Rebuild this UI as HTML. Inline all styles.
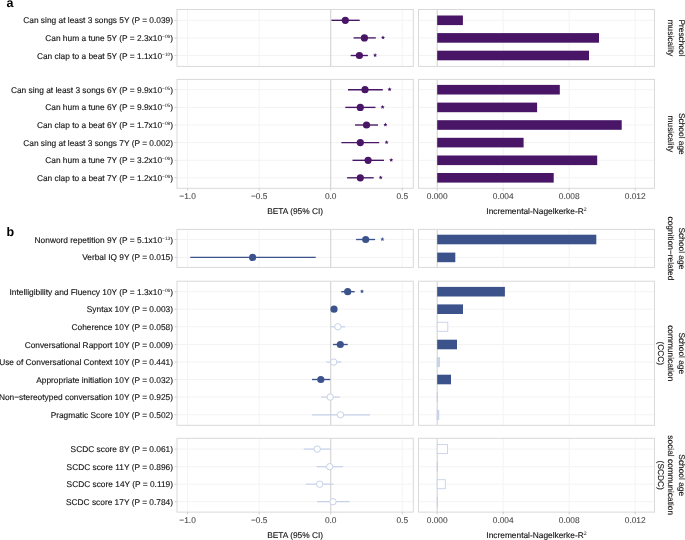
<!DOCTYPE html>
<html><head><meta charset="utf-8"><style>
html,body{margin:0;padding:0;background:#fff;}
body{width:685px;height:540px;overflow:hidden;}
svg{display:block;will-change:transform;font-family:"Liberation Sans",sans-serif;text-rendering:geometricPrecision;}
text{stroke-width:0.12px;}
tspan.s{stroke:none;}
</style></head><body>
<svg width="685" height="540" viewBox="0 0 685 540">
<rect width="685" height="540" fill="#fff"/>
<rect x="177.0" y="9.5" width="236.3" height="56.900000000000006" fill="#fff"/>
<rect x="418.5" y="9.5" width="236.0" height="56.900000000000006" fill="#fff"/>
<line x1="187.60" y1="9.5" x2="187.60" y2="66.4" stroke="#f3f3f3" stroke-width="1"/>
<line x1="259.15" y1="9.5" x2="259.15" y2="66.4" stroke="#f3f3f3" stroke-width="1"/>
<line x1="402.25" y1="9.5" x2="402.25" y2="66.4" stroke="#f3f3f3" stroke-width="1"/>
<line x1="503.20" y1="9.5" x2="503.20" y2="66.4" stroke="#f3f3f3" stroke-width="1"/>
<line x1="569.20" y1="9.5" x2="569.20" y2="66.4" stroke="#f3f3f3" stroke-width="1"/>
<line x1="635.20" y1="9.5" x2="635.20" y2="66.4" stroke="#f3f3f3" stroke-width="1"/>
<line x1="177.0" y1="20.3" x2="413.3" y2="20.3" stroke="#f3f3f3" stroke-width="1"/>
<line x1="418.5" y1="20.3" x2="654.5" y2="20.3" stroke="#f3f3f3" stroke-width="1"/>
<line x1="177.0" y1="37.9" x2="413.3" y2="37.9" stroke="#f3f3f3" stroke-width="1"/>
<line x1="418.5" y1="37.9" x2="654.5" y2="37.9" stroke="#f3f3f3" stroke-width="1"/>
<line x1="177.0" y1="55.5" x2="413.3" y2="55.5" stroke="#f3f3f3" stroke-width="1"/>
<line x1="418.5" y1="55.5" x2="654.5" y2="55.5" stroke="#f3f3f3" stroke-width="1"/>
<line x1="330.70" y1="9.5" x2="330.70" y2="66.4" stroke="#d3d3d3" stroke-width="1.1"/>
<line x1="437.20" y1="9.5" x2="437.20" y2="66.4" stroke="#d3d3d3" stroke-width="1.1"/>
<line x1="331.4" y1="20.3" x2="359.7" y2="20.3" stroke="#481567" stroke-width="1.35"/>
<circle cx="345.3" cy="20.3" r="3.6" fill="#481567"/>
<rect x="437.20" y="15.50" width="25.70" height="9.6" fill="#481567"/>
<line x1="174.6" y1="20.3" x2="177.0" y2="20.3" stroke="#c4c4c4" stroke-width="0.8"/>
<text x="173.0" y="23.30" class="l" text-anchor="end" fill="#111111" stroke="#111111" font-size="8.35">Can sing at least 3 songs 5Y (P = 0.039)</text>
<line x1="353.6" y1="37.9" x2="375.8" y2="37.9" stroke="#481567" stroke-width="1.35"/>
<circle cx="364.4" cy="37.9" r="3.6" fill="#481567"/>
<polygon points="383.00,35.50 383.59,36.79 385.00,36.95 383.95,37.91 384.23,39.30 383.00,38.60 381.77,39.30 382.05,37.91 381.00,36.95 382.41,36.79" fill="#481567"/>
<rect x="437.20" y="33.10" width="161.80" height="9.6" fill="#481567"/>
<line x1="174.6" y1="37.9" x2="177.0" y2="37.9" stroke="#c4c4c4" stroke-width="0.8"/>
<text x="173.0" y="40.90" class="l" text-anchor="end" fill="#111111" stroke="#111111" font-size="8.35">Can hum a tune 5Y (P = 2.3x10<tspan class="s" font-size="4.8" dy="-3.0">−06</tspan><tspan dy="3.0">)</tspan></text>
<line x1="350.7" y1="55.5" x2="367.9" y2="55.5" stroke="#481567" stroke-width="1.35"/>
<circle cx="359.4" cy="55.5" r="3.6" fill="#481567"/>
<polygon points="375.10,53.10 375.69,54.39 377.10,54.55 376.05,55.51 376.33,56.90 375.10,56.20 373.87,56.90 374.15,55.51 373.10,54.55 374.51,54.39" fill="#481567"/>
<rect x="437.20" y="50.70" width="151.80" height="9.6" fill="#481567"/>
<line x1="174.6" y1="55.5" x2="177.0" y2="55.5" stroke="#c4c4c4" stroke-width="0.8"/>
<text x="173.0" y="58.50" class="l" text-anchor="end" fill="#111111" stroke="#111111" font-size="8.35">Can clap to a beat 5Y (P = 1.1x10<tspan class="s" font-size="4.8" dy="-3.0">−10</tspan><tspan dy="3.0">)</tspan></text>
<rect x="177.0" y="9.5" width="236.30" height="56.90" fill="none" stroke="#d9d9d9" stroke-width="1"/>
<rect x="418.5" y="9.5" width="236.00" height="56.90" fill="none" stroke="#d9d9d9" stroke-width="1"/>
<text transform="translate(678.50,37.95) rotate(90)" text-anchor="middle" fill="#111111" stroke="#111111" font-size="8.35">Preschool</text>
<text transform="translate(668.40,37.95) rotate(90)" text-anchor="middle" fill="#111111" stroke="#111111" font-size="8.35">musicality</text>
<rect x="177.0" y="79.4" width="236.3" height="108.9" fill="#fff"/>
<rect x="418.5" y="79.4" width="236.0" height="108.9" fill="#fff"/>
<line x1="187.60" y1="79.4" x2="187.60" y2="188.3" stroke="#f3f3f3" stroke-width="1"/>
<line x1="259.15" y1="79.4" x2="259.15" y2="188.3" stroke="#f3f3f3" stroke-width="1"/>
<line x1="402.25" y1="79.4" x2="402.25" y2="188.3" stroke="#f3f3f3" stroke-width="1"/>
<line x1="503.20" y1="79.4" x2="503.20" y2="188.3" stroke="#f3f3f3" stroke-width="1"/>
<line x1="569.20" y1="79.4" x2="569.20" y2="188.3" stroke="#f3f3f3" stroke-width="1"/>
<line x1="635.20" y1="79.4" x2="635.20" y2="188.3" stroke="#f3f3f3" stroke-width="1"/>
<line x1="177.0" y1="89.7" x2="413.3" y2="89.7" stroke="#f3f3f3" stroke-width="1"/>
<line x1="418.5" y1="89.7" x2="654.5" y2="89.7" stroke="#f3f3f3" stroke-width="1"/>
<line x1="177.0" y1="107.4" x2="413.3" y2="107.4" stroke="#f3f3f3" stroke-width="1"/>
<line x1="418.5" y1="107.4" x2="654.5" y2="107.4" stroke="#f3f3f3" stroke-width="1"/>
<line x1="177.0" y1="125.0" x2="413.3" y2="125.0" stroke="#f3f3f3" stroke-width="1"/>
<line x1="418.5" y1="125.0" x2="654.5" y2="125.0" stroke="#f3f3f3" stroke-width="1"/>
<line x1="177.0" y1="142.6" x2="413.3" y2="142.6" stroke="#f3f3f3" stroke-width="1"/>
<line x1="418.5" y1="142.6" x2="654.5" y2="142.6" stroke="#f3f3f3" stroke-width="1"/>
<line x1="177.0" y1="160.3" x2="413.3" y2="160.3" stroke="#f3f3f3" stroke-width="1"/>
<line x1="418.5" y1="160.3" x2="654.5" y2="160.3" stroke="#f3f3f3" stroke-width="1"/>
<line x1="177.0" y1="177.8" x2="413.3" y2="177.8" stroke="#f3f3f3" stroke-width="1"/>
<line x1="418.5" y1="177.8" x2="654.5" y2="177.8" stroke="#f3f3f3" stroke-width="1"/>
<line x1="330.70" y1="79.4" x2="330.70" y2="188.3" stroke="#d3d3d3" stroke-width="1.1"/>
<line x1="437.20" y1="79.4" x2="437.20" y2="188.3" stroke="#d3d3d3" stroke-width="1.1"/>
<line x1="348.0" y1="89.7" x2="382.8" y2="89.7" stroke="#481567" stroke-width="1.35"/>
<circle cx="365.0" cy="89.7" r="3.6" fill="#481567"/>
<polygon points="389.60,87.30 390.19,88.59 391.60,88.75 390.55,89.71 390.83,91.10 389.60,90.40 388.37,91.10 388.65,89.71 387.60,88.75 389.01,88.59" fill="#481567"/>
<rect x="437.20" y="84.90" width="122.60" height="9.6" fill="#481567"/>
<line x1="174.6" y1="89.7" x2="177.0" y2="89.7" stroke="#c4c4c4" stroke-width="0.8"/>
<text x="173.0" y="92.70" class="l" text-anchor="end" fill="#111111" stroke="#111111" font-size="8.35">Can sing at least 3 songs 6Y (P = 9.9x10<tspan class="s" font-size="4.8" dy="-3.0">−05</tspan><tspan dy="3.0">)</tspan></text>
<line x1="345.3" y1="107.4" x2="375.5" y2="107.4" stroke="#481567" stroke-width="1.35"/>
<circle cx="360.3" cy="107.4" r="3.6" fill="#481567"/>
<polygon points="382.60,105.00 383.19,106.29 384.60,106.45 383.55,107.41 383.83,108.80 382.60,108.10 381.37,108.80 381.65,107.41 380.60,106.45 382.01,106.29" fill="#481567"/>
<rect x="437.20" y="102.60" width="99.90" height="9.6" fill="#481567"/>
<line x1="174.6" y1="107.4" x2="177.0" y2="107.4" stroke="#c4c4c4" stroke-width="0.8"/>
<text x="173.0" y="110.40" class="l" text-anchor="end" fill="#111111" stroke="#111111" font-size="8.35">Can hum a tune 6Y (P = 9.9x10<tspan class="s" font-size="4.8" dy="-3.0">−05</tspan><tspan dy="3.0">)</tspan></text>
<line x1="355.0" y1="125.0" x2="378.0" y2="125.0" stroke="#481567" stroke-width="1.35"/>
<circle cx="366.5" cy="125.0" r="3.6" fill="#481567"/>
<polygon points="385.40,122.60 385.99,123.89 387.40,124.05 386.35,125.01 386.63,126.40 385.40,125.70 384.17,126.40 384.45,125.01 383.40,124.05 384.81,123.89" fill="#481567"/>
<rect x="437.20" y="120.20" width="184.50" height="9.6" fill="#481567"/>
<line x1="174.6" y1="125.0" x2="177.0" y2="125.0" stroke="#c4c4c4" stroke-width="0.8"/>
<text x="173.0" y="128.00" class="l" text-anchor="end" fill="#111111" stroke="#111111" font-size="8.35">Can clap to a beat 6Y (P = 1.7x10<tspan class="s" font-size="4.8" dy="-3.0">−08</tspan><tspan dy="3.0">)</tspan></text>
<line x1="341.4" y1="142.6" x2="379.2" y2="142.6" stroke="#481567" stroke-width="1.35"/>
<circle cx="360.3" cy="142.6" r="3.6" fill="#481567"/>
<polygon points="386.60,140.20 387.19,141.49 388.60,141.65 387.55,142.61 387.83,144.00 386.60,143.30 385.37,144.00 385.65,142.61 384.60,141.65 386.01,141.49" fill="#481567"/>
<rect x="437.20" y="137.80" width="86.40" height="9.6" fill="#481567"/>
<line x1="174.6" y1="142.6" x2="177.0" y2="142.6" stroke="#c4c4c4" stroke-width="0.8"/>
<text x="173.0" y="145.60" class="l" text-anchor="end" fill="#111111" stroke="#111111" font-size="8.35">Can sing at least 3 songs 7Y (P = 0.002)</text>
<line x1="352.5" y1="160.3" x2="384.0" y2="160.3" stroke="#481567" stroke-width="1.35"/>
<circle cx="368.1" cy="160.3" r="3.6" fill="#481567"/>
<polygon points="391.20,157.90 391.79,159.19 393.20,159.35 392.15,160.31 392.43,161.70 391.20,161.00 389.97,161.70 390.25,160.31 389.20,159.35 390.61,159.19" fill="#481567"/>
<rect x="437.20" y="155.50" width="160.00" height="9.6" fill="#481567"/>
<line x1="174.6" y1="160.3" x2="177.0" y2="160.3" stroke="#c4c4c4" stroke-width="0.8"/>
<text x="173.0" y="163.30" class="l" text-anchor="end" fill="#111111" stroke="#111111" font-size="8.35">Can hum a tune 7Y (P = 3.2x10<tspan class="s" font-size="4.8" dy="-3.0">−06</tspan><tspan dy="3.0">)</tspan></text>
<line x1="347.1" y1="177.8" x2="373.7" y2="177.8" stroke="#481567" stroke-width="1.35"/>
<circle cx="360.3" cy="177.8" r="3.6" fill="#481567"/>
<polygon points="380.70,175.40 381.29,176.69 382.70,176.85 381.65,177.81 381.93,179.20 380.70,178.50 379.47,179.20 379.75,177.81 378.70,176.85 380.11,176.69" fill="#481567"/>
<rect x="437.20" y="173.00" width="116.50" height="9.6" fill="#481567"/>
<line x1="174.6" y1="177.8" x2="177.0" y2="177.8" stroke="#c4c4c4" stroke-width="0.8"/>
<text x="173.0" y="180.80" class="l" text-anchor="end" fill="#111111" stroke="#111111" font-size="8.35">Can clap to a beat 7Y (P = 1.2x10<tspan class="s" font-size="4.8" dy="-3.0">−06</tspan><tspan dy="3.0">)</tspan></text>
<rect x="177.0" y="79.4" width="236.30" height="108.90" fill="none" stroke="#d9d9d9" stroke-width="1"/>
<rect x="418.5" y="79.4" width="236.00" height="108.90" fill="none" stroke="#d9d9d9" stroke-width="1"/>
<text transform="translate(678.50,133.85) rotate(90)" text-anchor="middle" fill="#111111" stroke="#111111" font-size="8.35">School age</text>
<text transform="translate(668.40,133.85) rotate(90)" text-anchor="middle" fill="#111111" stroke="#111111" font-size="8.35">musicality</text>
<rect x="177.0" y="229.4" width="236.3" height="37.99999999999997" fill="#fff"/>
<rect x="418.5" y="229.4" width="236.0" height="37.99999999999997" fill="#fff"/>
<line x1="187.60" y1="229.4" x2="187.60" y2="267.4" stroke="#f3f3f3" stroke-width="1"/>
<line x1="259.15" y1="229.4" x2="259.15" y2="267.4" stroke="#f3f3f3" stroke-width="1"/>
<line x1="402.25" y1="229.4" x2="402.25" y2="267.4" stroke="#f3f3f3" stroke-width="1"/>
<line x1="503.20" y1="229.4" x2="503.20" y2="267.4" stroke="#f3f3f3" stroke-width="1"/>
<line x1="569.20" y1="229.4" x2="569.20" y2="267.4" stroke="#f3f3f3" stroke-width="1"/>
<line x1="635.20" y1="229.4" x2="635.20" y2="267.4" stroke="#f3f3f3" stroke-width="1"/>
<line x1="177.0" y1="239.5" x2="413.3" y2="239.5" stroke="#f3f3f3" stroke-width="1"/>
<line x1="418.5" y1="239.5" x2="654.5" y2="239.5" stroke="#f3f3f3" stroke-width="1"/>
<line x1="177.0" y1="257.4" x2="413.3" y2="257.4" stroke="#f3f3f3" stroke-width="1"/>
<line x1="418.5" y1="257.4" x2="654.5" y2="257.4" stroke="#f3f3f3" stroke-width="1"/>
<line x1="330.70" y1="229.4" x2="330.70" y2="267.4" stroke="#d3d3d3" stroke-width="1.1"/>
<line x1="437.20" y1="229.4" x2="437.20" y2="267.4" stroke="#d3d3d3" stroke-width="1.1"/>
<line x1="356.1" y1="239.5" x2="375.1" y2="239.5" stroke="#3B528B" stroke-width="1.35"/>
<circle cx="365.7" cy="239.5" r="3.6" fill="#3B528B"/>
<polygon points="382.40,237.10 382.99,238.39 384.40,238.55 383.35,239.51 383.63,240.90 382.40,240.20 381.17,240.90 381.45,239.51 380.40,238.55 381.81,238.39" fill="#3B528B"/>
<rect x="437.20" y="234.70" width="159.10" height="9.6" fill="#3B528B"/>
<line x1="174.6" y1="239.5" x2="177.0" y2="239.5" stroke="#c4c4c4" stroke-width="0.8"/>
<text x="173.0" y="242.50" class="l" text-anchor="end" fill="#111111" stroke="#111111" font-size="8.35">Nonword repetition 9Y (P = 5.1x10<tspan class="s" font-size="4.8" dy="-3.0">−13</tspan><tspan dy="3.0">)</tspan></text>
<line x1="190.3" y1="257.4" x2="315.7" y2="257.4" stroke="#3B528B" stroke-width="1.35"/>
<circle cx="252.6" cy="257.4" r="3.6" fill="#3B528B"/>
<rect x="437.20" y="252.60" width="18.10" height="9.6" fill="#3B528B"/>
<line x1="174.6" y1="257.4" x2="177.0" y2="257.4" stroke="#c4c4c4" stroke-width="0.8"/>
<text x="173.0" y="260.40" class="l" text-anchor="end" fill="#111111" stroke="#111111" font-size="8.35">Verbal IQ 9Y (P = 0.015)</text>
<rect x="177.0" y="229.4" width="236.30" height="38.00" fill="none" stroke="#d9d9d9" stroke-width="1"/>
<rect x="418.5" y="229.4" width="236.00" height="38.00" fill="none" stroke="#d9d9d9" stroke-width="1"/>
<text transform="translate(678.50,248.40) rotate(90)" text-anchor="middle" fill="#111111" stroke="#111111" font-size="8.35">School age</text>
<text transform="translate(668.40,248.40) rotate(90)" text-anchor="middle" fill="#111111" stroke="#111111" font-size="8.35">cognition−related</text>
<rect x="177.0" y="281.2" width="236.3" height="144.10000000000002" fill="#fff"/>
<rect x="418.5" y="281.2" width="236.0" height="144.10000000000002" fill="#fff"/>
<line x1="187.60" y1="281.2" x2="187.60" y2="425.3" stroke="#f3f3f3" stroke-width="1"/>
<line x1="259.15" y1="281.2" x2="259.15" y2="425.3" stroke="#f3f3f3" stroke-width="1"/>
<line x1="402.25" y1="281.2" x2="402.25" y2="425.3" stroke="#f3f3f3" stroke-width="1"/>
<line x1="503.20" y1="281.2" x2="503.20" y2="425.3" stroke="#f3f3f3" stroke-width="1"/>
<line x1="569.20" y1="281.2" x2="569.20" y2="425.3" stroke="#f3f3f3" stroke-width="1"/>
<line x1="635.20" y1="281.2" x2="635.20" y2="425.3" stroke="#f3f3f3" stroke-width="1"/>
<line x1="177.0" y1="291.7" x2="413.3" y2="291.7" stroke="#f3f3f3" stroke-width="1"/>
<line x1="418.5" y1="291.7" x2="654.5" y2="291.7" stroke="#f3f3f3" stroke-width="1"/>
<line x1="177.0" y1="309.2" x2="413.3" y2="309.2" stroke="#f3f3f3" stroke-width="1"/>
<line x1="418.5" y1="309.2" x2="654.5" y2="309.2" stroke="#f3f3f3" stroke-width="1"/>
<line x1="177.0" y1="326.8" x2="413.3" y2="326.8" stroke="#f3f3f3" stroke-width="1"/>
<line x1="418.5" y1="326.8" x2="654.5" y2="326.8" stroke="#f3f3f3" stroke-width="1"/>
<line x1="177.0" y1="344.5" x2="413.3" y2="344.5" stroke="#f3f3f3" stroke-width="1"/>
<line x1="418.5" y1="344.5" x2="654.5" y2="344.5" stroke="#f3f3f3" stroke-width="1"/>
<line x1="177.0" y1="362.1" x2="413.3" y2="362.1" stroke="#f3f3f3" stroke-width="1"/>
<line x1="418.5" y1="362.1" x2="654.5" y2="362.1" stroke="#f3f3f3" stroke-width="1"/>
<line x1="177.0" y1="379.5" x2="413.3" y2="379.5" stroke="#f3f3f3" stroke-width="1"/>
<line x1="418.5" y1="379.5" x2="654.5" y2="379.5" stroke="#f3f3f3" stroke-width="1"/>
<line x1="177.0" y1="397.1" x2="413.3" y2="397.1" stroke="#f3f3f3" stroke-width="1"/>
<line x1="418.5" y1="397.1" x2="654.5" y2="397.1" stroke="#f3f3f3" stroke-width="1"/>
<line x1="177.0" y1="414.8" x2="413.3" y2="414.8" stroke="#f3f3f3" stroke-width="1"/>
<line x1="418.5" y1="414.8" x2="654.5" y2="414.8" stroke="#f3f3f3" stroke-width="1"/>
<line x1="330.70" y1="281.2" x2="330.70" y2="425.3" stroke="#d3d3d3" stroke-width="1.1"/>
<line x1="437.20" y1="281.2" x2="437.20" y2="425.3" stroke="#d3d3d3" stroke-width="1.1"/>
<line x1="341.2" y1="291.7" x2="354.7" y2="291.7" stroke="#3B528B" stroke-width="1.35"/>
<circle cx="347.7" cy="291.7" r="3.6" fill="#3B528B"/>
<polygon points="362.00,289.30 362.59,290.59 364.00,290.75 362.95,291.71 363.23,293.10 362.00,292.40 360.77,293.10 361.05,291.71 360.00,290.75 361.41,290.59" fill="#3B528B"/>
<rect x="437.20" y="286.90" width="67.70" height="9.6" fill="#3B528B"/>
<line x1="174.6" y1="291.7" x2="177.0" y2="291.7" stroke="#c4c4c4" stroke-width="0.8"/>
<text x="173.0" y="294.70" class="l" text-anchor="end" fill="#111111" stroke="#111111" font-size="8.35">Intelligibility and Fluency 10Y (P = 1.3x10<tspan class="s" font-size="4.8" dy="-3.0">−06</tspan><tspan dy="3.0">)</tspan></text>
<line x1="332.5" y1="309.2" x2="335.5" y2="309.2" stroke="#3B528B" stroke-width="1.35"/>
<circle cx="334.0" cy="309.2" r="3.6" fill="#3B528B"/>
<rect x="437.20" y="304.40" width="25.80" height="9.6" fill="#3B528B"/>
<line x1="174.6" y1="309.2" x2="177.0" y2="309.2" stroke="#c4c4c4" stroke-width="0.8"/>
<text x="173.0" y="312.20" class="l" text-anchor="end" fill="#111111" stroke="#111111" font-size="8.35">Syntax 10Y (P = 0.003)</text>
<line x1="330.7" y1="326.8" x2="345.1" y2="326.8" stroke="#c6d1ea" stroke-width="1.2"/>
<circle cx="337.9" cy="326.8" r="3.2" fill="#fff" stroke="#c6d1ea" stroke-width="1"/>
<rect x="437.20" y="322.30" width="10.60" height="9.0" fill="#fff" stroke="#c6d1ea" stroke-width="0.9"/>
<line x1="174.6" y1="326.8" x2="177.0" y2="326.8" stroke="#c4c4c4" stroke-width="0.8"/>
<text x="173.0" y="329.80" class="l" text-anchor="end" fill="#111111" stroke="#111111" font-size="8.35">Coherence 10Y (P = 0.058)</text>
<line x1="333.0" y1="344.5" x2="347.7" y2="344.5" stroke="#3B528B" stroke-width="1.35"/>
<circle cx="340.3" cy="344.5" r="3.6" fill="#3B528B"/>
<rect x="437.20" y="339.70" width="19.80" height="9.6" fill="#3B528B"/>
<line x1="174.6" y1="344.5" x2="177.0" y2="344.5" stroke="#c4c4c4" stroke-width="0.8"/>
<text x="173.0" y="347.50" class="l" text-anchor="end" fill="#111111" stroke="#111111" font-size="8.35">Conversational Rapport 10Y (P = 0.009)</text>
<line x1="326.3" y1="362.1" x2="341.4" y2="362.1" stroke="#c6d1ea" stroke-width="1.2"/>
<circle cx="333.7" cy="362.1" r="3.2" fill="#fff" stroke="#c6d1ea" stroke-width="1"/>
<rect x="437.20" y="357.60" width="2.30" height="9.0" fill="#c6d1ea" stroke="#c6d1ea" stroke-width="0.9"/>
<line x1="174.6" y1="362.1" x2="177.0" y2="362.1" stroke="#c4c4c4" stroke-width="0.8"/>
<text x="173.0" y="365.10" class="l" text-anchor="end" fill="#111111" stroke="#111111" font-size="8.35">Use of Conversational Context 10Y (P = 0.441)</text>
<line x1="312.0" y1="379.5" x2="330.2" y2="379.5" stroke="#3B528B" stroke-width="1.35"/>
<circle cx="320.8" cy="379.5" r="3.6" fill="#3B528B"/>
<rect x="437.20" y="374.70" width="13.80" height="9.6" fill="#3B528B"/>
<line x1="174.6" y1="379.5" x2="177.0" y2="379.5" stroke="#c4c4c4" stroke-width="0.8"/>
<text x="173.0" y="382.50" class="l" text-anchor="end" fill="#111111" stroke="#111111" font-size="8.35">Appropriate initiation 10Y (P = 0.032)</text>
<line x1="321.0" y1="397.1" x2="339.9" y2="397.1" stroke="#c6d1ea" stroke-width="1.2"/>
<circle cx="330.2" cy="397.1" r="3.2" fill="#fff" stroke="#c6d1ea" stroke-width="1"/>
<rect x="437.20" y="392.60" width="0.40" height="9.0" fill="#c6d1ea" stroke="#c6d1ea" stroke-width="0.9"/>
<line x1="174.6" y1="397.1" x2="177.0" y2="397.1" stroke="#c4c4c4" stroke-width="0.8"/>
<text x="173.0" y="400.10" class="l" text-anchor="end" fill="#111111" stroke="#111111" font-size="8.35">Non−stereotyped conversation 10Y (P = 0.925)</text>
<line x1="311.9" y1="414.8" x2="370.0" y2="414.8" stroke="#c6d1ea" stroke-width="1.2"/>
<circle cx="340.5" cy="414.8" r="3.2" fill="#fff" stroke="#c6d1ea" stroke-width="1"/>
<rect x="437.20" y="410.30" width="1.60" height="9.0" fill="#c6d1ea" stroke="#c6d1ea" stroke-width="0.9"/>
<line x1="174.6" y1="414.8" x2="177.0" y2="414.8" stroke="#c4c4c4" stroke-width="0.8"/>
<text x="173.0" y="417.80" class="l" text-anchor="end" fill="#111111" stroke="#111111" font-size="8.35">Pragmatic Score 10Y (P = 0.502)</text>
<rect x="177.0" y="281.2" width="236.30" height="144.10" fill="none" stroke="#d9d9d9" stroke-width="1"/>
<rect x="418.5" y="281.2" width="236.00" height="144.10" fill="none" stroke="#d9d9d9" stroke-width="1"/>
<text transform="translate(678.50,353.25) rotate(90)" text-anchor="middle" fill="#111111" stroke="#111111" font-size="8.35">School age</text>
<text transform="translate(668.40,353.25) rotate(90)" text-anchor="middle" fill="#111111" stroke="#111111" font-size="8.35">communication</text>
<text transform="translate(658.30,353.25) rotate(90)" text-anchor="middle" fill="#111111" stroke="#111111" font-size="8.35">(CCC)</text>
<rect x="177.0" y="438.3" width="236.3" height="73.80000000000001" fill="#fff"/>
<rect x="418.5" y="438.3" width="236.0" height="73.80000000000001" fill="#fff"/>
<line x1="187.60" y1="438.3" x2="187.60" y2="512.1" stroke="#f3f3f3" stroke-width="1"/>
<line x1="259.15" y1="438.3" x2="259.15" y2="512.1" stroke="#f3f3f3" stroke-width="1"/>
<line x1="402.25" y1="438.3" x2="402.25" y2="512.1" stroke="#f3f3f3" stroke-width="1"/>
<line x1="503.20" y1="438.3" x2="503.20" y2="512.1" stroke="#f3f3f3" stroke-width="1"/>
<line x1="569.20" y1="438.3" x2="569.20" y2="512.1" stroke="#f3f3f3" stroke-width="1"/>
<line x1="635.20" y1="438.3" x2="635.20" y2="512.1" stroke="#f3f3f3" stroke-width="1"/>
<line x1="177.0" y1="449.1" x2="413.3" y2="449.1" stroke="#f3f3f3" stroke-width="1"/>
<line x1="418.5" y1="449.1" x2="654.5" y2="449.1" stroke="#f3f3f3" stroke-width="1"/>
<line x1="177.0" y1="466.7" x2="413.3" y2="466.7" stroke="#f3f3f3" stroke-width="1"/>
<line x1="418.5" y1="466.7" x2="654.5" y2="466.7" stroke="#f3f3f3" stroke-width="1"/>
<line x1="177.0" y1="484.2" x2="413.3" y2="484.2" stroke="#f3f3f3" stroke-width="1"/>
<line x1="418.5" y1="484.2" x2="654.5" y2="484.2" stroke="#f3f3f3" stroke-width="1"/>
<line x1="177.0" y1="501.7" x2="413.3" y2="501.7" stroke="#f3f3f3" stroke-width="1"/>
<line x1="418.5" y1="501.7" x2="654.5" y2="501.7" stroke="#f3f3f3" stroke-width="1"/>
<line x1="330.70" y1="438.3" x2="330.70" y2="512.1" stroke="#d3d3d3" stroke-width="1.1"/>
<line x1="437.20" y1="438.3" x2="437.20" y2="512.1" stroke="#d3d3d3" stroke-width="1.1"/>
<line x1="303.7" y1="449.1" x2="330.8" y2="449.1" stroke="#c6d1ea" stroke-width="1.2"/>
<circle cx="317.2" cy="449.1" r="3.2" fill="#fff" stroke="#c6d1ea" stroke-width="1"/>
<rect x="437.20" y="444.60" width="10.30" height="9.0" fill="#fff" stroke="#c6d1ea" stroke-width="0.9"/>
<line x1="174.6" y1="449.1" x2="177.0" y2="449.1" stroke="#c4c4c4" stroke-width="0.8"/>
<text x="173.0" y="452.10" class="l" text-anchor="end" fill="#111111" stroke="#111111" font-size="8.35">SCDC score 8Y (P = 0.061)</text>
<line x1="316.7" y1="466.7" x2="343.0" y2="466.7" stroke="#c6d1ea" stroke-width="1.2"/>
<circle cx="329.7" cy="466.7" r="3.2" fill="#fff" stroke="#c6d1ea" stroke-width="1"/>
<rect x="437.20" y="462.20" width="0.40" height="9.0" fill="#c6d1ea" stroke="#c6d1ea" stroke-width="0.9"/>
<line x1="174.6" y1="466.7" x2="177.0" y2="466.7" stroke="#c4c4c4" stroke-width="0.8"/>
<text x="173.0" y="469.70" class="l" text-anchor="end" fill="#111111" stroke="#111111" font-size="8.35">SCDC score 11Y (P = 0.896)</text>
<line x1="305.8" y1="484.2" x2="333.7" y2="484.2" stroke="#c6d1ea" stroke-width="1.2"/>
<circle cx="319.7" cy="484.2" r="3.2" fill="#fff" stroke="#c6d1ea" stroke-width="1"/>
<rect x="437.20" y="479.70" width="8.10" height="9.0" fill="#fff" stroke="#c6d1ea" stroke-width="0.9"/>
<line x1="174.6" y1="484.2" x2="177.0" y2="484.2" stroke="#c4c4c4" stroke-width="0.8"/>
<text x="173.0" y="487.20" class="l" text-anchor="end" fill="#111111" stroke="#111111" font-size="8.35">SCDC score 14Y (P = 0.119)</text>
<line x1="317.0" y1="501.7" x2="349.5" y2="501.7" stroke="#c6d1ea" stroke-width="1.2"/>
<circle cx="333.0" cy="501.7" r="3.2" fill="#fff" stroke="#c6d1ea" stroke-width="1"/>
<rect x="437.20" y="497.20" width="0.40" height="9.0" fill="#c6d1ea" stroke="#c6d1ea" stroke-width="0.9"/>
<line x1="174.6" y1="501.7" x2="177.0" y2="501.7" stroke="#c4c4c4" stroke-width="0.8"/>
<text x="173.0" y="504.70" class="l" text-anchor="end" fill="#111111" stroke="#111111" font-size="8.35">SCDC score 17Y (P = 0.784)</text>
<rect x="177.0" y="438.3" width="236.30" height="73.80" fill="none" stroke="#d9d9d9" stroke-width="1"/>
<rect x="418.5" y="438.3" width="236.00" height="73.80" fill="none" stroke="#d9d9d9" stroke-width="1"/>
<text transform="translate(678.50,475.20) rotate(90)" text-anchor="middle" fill="#111111" stroke="#111111" font-size="8.35">School age</text>
<text transform="translate(668.40,475.20) rotate(90)" text-anchor="middle" fill="#111111" stroke="#111111" font-size="8.35">social communication</text>
<text transform="translate(658.30,475.20) rotate(90)" text-anchor="middle" fill="#111111" stroke="#111111" font-size="8.35">(SCDC)</text>
<line x1="187.60" y1="188.3" x2="187.60" y2="190.60000000000002" stroke="#c4c4c4" stroke-width="0.8"/>
<text x="187.60" y="199.0" text-anchor="middle" fill="#4d4d4d" stroke="#4d4d4d" font-size="8.35">−1.0</text>
<line x1="259.15" y1="188.3" x2="259.15" y2="190.60000000000002" stroke="#c4c4c4" stroke-width="0.8"/>
<text x="259.15" y="199.0" text-anchor="middle" fill="#4d4d4d" stroke="#4d4d4d" font-size="8.35">−0.5</text>
<line x1="330.70" y1="188.3" x2="330.70" y2="190.60000000000002" stroke="#c4c4c4" stroke-width="0.8"/>
<text x="330.70" y="199.0" text-anchor="middle" fill="#4d4d4d" stroke="#4d4d4d" font-size="8.35">0.0</text>
<line x1="402.25" y1="188.3" x2="402.25" y2="190.60000000000002" stroke="#c4c4c4" stroke-width="0.8"/>
<text x="402.25" y="199.0" text-anchor="middle" fill="#4d4d4d" stroke="#4d4d4d" font-size="8.35">0.5</text>
<line x1="437.20" y1="188.3" x2="437.20" y2="190.60000000000002" stroke="#c4c4c4" stroke-width="0.8"/>
<text x="437.20" y="199.0" text-anchor="middle" fill="#4d4d4d" stroke="#4d4d4d" font-size="8.35">0.000</text>
<line x1="503.20" y1="188.3" x2="503.20" y2="190.60000000000002" stroke="#c4c4c4" stroke-width="0.8"/>
<text x="503.20" y="199.0" text-anchor="middle" fill="#4d4d4d" stroke="#4d4d4d" font-size="8.35">0.004</text>
<line x1="569.20" y1="188.3" x2="569.20" y2="190.60000000000002" stroke="#c4c4c4" stroke-width="0.8"/>
<text x="569.20" y="199.0" text-anchor="middle" fill="#4d4d4d" stroke="#4d4d4d" font-size="8.35">0.008</text>
<line x1="635.20" y1="188.3" x2="635.20" y2="190.60000000000002" stroke="#c4c4c4" stroke-width="0.8"/>
<text x="635.20" y="199.0" text-anchor="middle" fill="#4d4d4d" stroke="#4d4d4d" font-size="8.35">0.012</text>
<text x="295.15" y="214.4" text-anchor="middle" fill="#111111" stroke="#111111" font-size="8.35">BETA (95% CI)</text>
<text x="536.50" y="214.4" text-anchor="middle" fill="#111111" stroke="#111111" font-size="8.35">Incremental-Nagelkerke-R<tspan class="s" font-size="5.2" dy="-3">2</tspan></text>
<line x1="187.60" y1="512.1" x2="187.60" y2="514.4" stroke="#c4c4c4" stroke-width="0.8"/>
<text x="187.60" y="522.8" text-anchor="middle" fill="#4d4d4d" stroke="#4d4d4d" font-size="8.35">−1.0</text>
<line x1="259.15" y1="512.1" x2="259.15" y2="514.4" stroke="#c4c4c4" stroke-width="0.8"/>
<text x="259.15" y="522.8" text-anchor="middle" fill="#4d4d4d" stroke="#4d4d4d" font-size="8.35">−0.5</text>
<line x1="330.70" y1="512.1" x2="330.70" y2="514.4" stroke="#c4c4c4" stroke-width="0.8"/>
<text x="330.70" y="522.8" text-anchor="middle" fill="#4d4d4d" stroke="#4d4d4d" font-size="8.35">0.0</text>
<line x1="402.25" y1="512.1" x2="402.25" y2="514.4" stroke="#c4c4c4" stroke-width="0.8"/>
<text x="402.25" y="522.8" text-anchor="middle" fill="#4d4d4d" stroke="#4d4d4d" font-size="8.35">0.5</text>
<line x1="437.20" y1="512.1" x2="437.20" y2="514.4" stroke="#c4c4c4" stroke-width="0.8"/>
<text x="437.20" y="522.8" text-anchor="middle" fill="#4d4d4d" stroke="#4d4d4d" font-size="8.35">0.000</text>
<line x1="503.20" y1="512.1" x2="503.20" y2="514.4" stroke="#c4c4c4" stroke-width="0.8"/>
<text x="503.20" y="522.8" text-anchor="middle" fill="#4d4d4d" stroke="#4d4d4d" font-size="8.35">0.004</text>
<line x1="569.20" y1="512.1" x2="569.20" y2="514.4" stroke="#c4c4c4" stroke-width="0.8"/>
<text x="569.20" y="522.8" text-anchor="middle" fill="#4d4d4d" stroke="#4d4d4d" font-size="8.35">0.008</text>
<line x1="635.20" y1="512.1" x2="635.20" y2="514.4" stroke="#c4c4c4" stroke-width="0.8"/>
<text x="635.20" y="522.8" text-anchor="middle" fill="#4d4d4d" stroke="#4d4d4d" font-size="8.35">0.012</text>
<text x="295.15" y="538.2" text-anchor="middle" fill="#111111" stroke="#111111" font-size="8.35">BETA (95% CI)</text>
<text x="536.50" y="538.2" text-anchor="middle" fill="#111111" stroke="#111111" font-size="8.35">Incremental-Nagelkerke-R<tspan class="s" font-size="5.2" dy="-3">2</tspan></text>
<text x="6.6" y="6.8" font-size="12.5" font-weight="bold" fill="#000">a</text>
<text x="6.6" y="236.0" font-size="12.5" font-weight="bold" fill="#000">b</text>
</svg>
</body></html>
